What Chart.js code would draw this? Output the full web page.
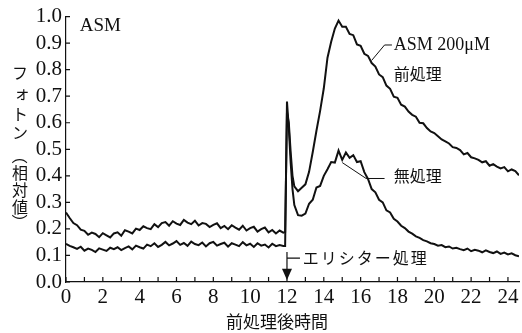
<!DOCTYPE html>
<html>
<head>
<meta charset="utf-8">
<script src="https://cdn.jsdelivr.net/npm/chart.js@4.4.1/dist/chart.umd.min.js"></script>
<style>
  body { margin: 0; background: #fff; }
  #wrap { width: 522px; height: 333px; position: relative; }
</style>
</head>
<body>
<div id="wrap"><canvas id="photon"></canvas></div>
<script>
// hours after pretreatment (finer steps around the elicitor spike)
const hours = [
  0,0.2,0.4,0.6,0.8,1,1.2,1.4,1.6,1.8,2,2.2,2.4,2.6,2.8,3,3.2,3.4,3.6,3.8,
  4,4.2,4.4,4.6,4.8,5,5.2,5.4,5.6,5.8,6,6.2,6.4,6.6,6.8,7,7.2,7.4,7.6,7.8,
  8,8.2,8.4,8.6,8.8,9,9.2,9.4,9.6,9.8,10,10.2,10.4,10.6,10.8,11,11.2,11.4,11.6,11.8,
  11.9,12,12.1,12.2,12.3,
  12.4,12.6,12.8,13,13.2,13.4,13.6,13.8,14,14.2,14.4,14.6,14.8,15,15.2,15.4,15.6,15.8,16,
  16.2,16.4,16.6,16.8,17,17.2,17.4,17.6,17.8,18,18.2,18.4,18.6,18.8,19,19.2,19.4,19.6,19.8,20,
  20.2,20.4,20.6,20.8,21,21.2,21.4,21.6,21.8,22,22.2,22.4,22.6,22.8,23,23.2,23.4,23.6,23.8,24,
  24.2,24.4,24.6
];

// ASM 200uM pretreatment
const asmPretreated = [
  0.262,0.241,0.222,0.214,0.197,0.193,0.178,0.186,0.181,0.169,0.184,0.176,0.168,0.183,0.187,0.174,0.195,0.19,0.183,0.201,
  0.196,0.21,0.203,0.199,0.218,0.207,0.222,0.226,0.212,0.229,0.22,0.215,0.234,0.224,0.218,0.231,0.213,0.222,0.219,0.207,
  0.215,0.221,0.203,0.211,0.199,0.214,0.205,0.197,0.212,0.194,0.203,0.208,0.19,0.199,0.205,0.187,0.196,0.183,0.194,0.186,
  0.188,0.64,0.6,0.49,0.4,
  0.36,0.342,0.355,0.368,0.415,0.49,0.57,0.645,0.73,0.845,0.905,0.955,0.985,0.962,0.962,0.935,0.93,0.895,0.89,
  0.86,0.852,0.825,0.812,0.782,0.772,0.74,0.728,0.698,0.694,
  0.668,0.661,0.642,0.63,0.623,0.6,0.598,0.58,0.567,0.561,0.549,0.537,0.53,0.522,0.508,0.505,0.497,0.481,0.486,0.47,
  0.466,0.46,0.451,0.455,0.438,0.444,0.435,0.428,0.433,0.417,0.424,0.418,0.402
];

// untreated
const untreated = [
  0.144,0.136,0.131,0.125,0.133,0.118,0.126,0.121,0.113,0.127,0.122,0.117,0.129,0.124,0.131,0.12,0.128,0.134,0.123,0.137,
  0.131,0.126,0.141,0.135,0.146,0.132,0.14,0.151,0.138,0.145,0.154,0.14,0.147,0.136,0.152,0.143,0.139,0.149,0.134,0.146,
  0.151,0.137,0.143,0.148,0.133,0.146,0.141,0.135,0.15,0.138,0.144,0.132,0.146,0.137,0.141,0.13,0.144,0.135,0.139,0.136,
  0.136,0.68,0.58,0.45,0.35,
  0.29,0.252,0.25,0.258,0.295,0.31,0.356,0.362,0.4,0.425,0.452,0.45,0.495,0.46,0.488,0.468,0.478,0.452,0.455,
  0.414,0.388,0.35,0.338,0.31,0.3,0.27,0.262,0.238,0.228,
  0.212,0.203,0.19,0.182,0.172,0.166,0.158,0.153,0.146,0.143,0.137,0.139,0.131,0.134,0.126,0.129,0.124,0.12,0.126,0.116,
  0.121,0.118,0.112,0.119,0.113,0.109,0.115,0.106,0.111,0.104,0.108,0.101,0.097
];

const xTickLabels = [0,2,4,6,8,10,12,14,16,18,20,22,24];
const xMinorTicks = [0,1,2,3,4,5,6,7,8,9,10,11,12,13,14,15,16,17,18,19,20,21,22,23,24];
const yTickLabels = [0,0.1,0.2,0.3,0.4,0.5,0.6,0.7,0.8,0.9,1.0];

const serif = "'Liberation Serif', 'DejaVu Serif', serif";
const jp = "'Noto Sans CJK JP', 'Noto Sans', sans-serif";
const ink = '#111';

function pairs(xs, ys) {
  return xs.map((t, i) => ({ x: t, y: ys[i] }));
}

const overlay = {
  id: 'overlay',
  afterDraw(chart) {
    const ctx = chart.ctx;
    const xs = chart.scales.x, ys = chart.scales.y;
    const area = chart.chartArea;
    const px = v => xs.getPixelForValue(v);
    const py = v => ys.getPixelForValue(v);

    ctx.save();
    ctx.strokeStyle = ink;
    ctx.fillStyle = ink;
    ctx.lineWidth = 1.2;

    // inner tick marks
    ctx.beginPath();
    xMinorTicks.forEach(t => {
        ctx.moveTo(px(t), area.bottom);
        ctx.lineTo(px(t), area.bottom - 5);
    });
    yTickLabels.forEach(v => {
        ctx.moveTo(area.left, py(v));
        ctx.lineTo(area.left + 4, py(v));
    });
    ctx.stroke();

    // elicitor arrow
    const ax = px(12);
    ctx.beginPath();
    ctx.moveTo(ax, py(0.113));
    ctx.lineTo(ax, py(0.03));
    ctx.moveTo(ax, py(0.09));
    ctx.lineTo(ax + 13, py(0.09));
    ctx.stroke();
    ctx.beginPath();
    ctx.moveTo(ax - 5, py(0.05));
    ctx.lineTo(ax + 5, py(0.05));
    ctx.lineTo(ax, area.bottom - 2);
    ctx.closePath();
    ctx.fill();

    // leader lines
    ctx.lineWidth = 1;
    ctx.beginPath();
    ctx.moveTo(px(17.7), py(0.893));
    ctx.lineTo(px(17.3), py(0.893));
    ctx.lineTo(px(16.6), py(0.835));
    ctx.moveTo(px(15.0), py(0.45));
    ctx.lineTo(px(16.3), py(0.39));
    ctx.lineTo(px(17.3), py(0.39));
    ctx.stroke();

    // texts
    ctx.textBaseline = 'middle';
    ctx.textAlign = 'left';
    ctx.font = '19px ' + serif;
    ctx.fillText('ASM', px(0.75), py(0.965));
    ctx.font = '18px ' + serif;
    ctx.fillText('ASM 200\u03bcM', px(17.8), py(0.893));
    ctx.font = '16px ' + jp;
    ctx.fillText('前処理', px(17.8), py(0.785));
    ctx.fillText('無処理', px(17.8), py(0.40));
    ctx.letterSpacing = '2px';
    ctx.fillText('エリシター処理', px(12.85), py(0.09));
    ctx.letterSpacing = '0px';

    // x title
    ctx.textAlign = 'center';
    ctx.font = '17px ' + jp;
    ctx.fillText('前処理後時間', 277, 322);

    // vertical y title (parentheses turned for vertical writing)
    ctx.font = '16px ' + jp;
    const chars = ['フ', 'ォ', 'ト', 'ン', '（', '相', '対', '値', '）'];
    const tops = [73, 93, 114, 133, 156, 173, 190, 207, 222];
    chars.forEach((c, i) => {
        if (c === '（' || c === '）') {
            ctx.save();
            ctx.translate(20, tops[i]);
            ctx.rotate(Math.PI / 2);
            ctx.fillText(c, 0, 0);
            ctx.restore();
        } else {
            const dx = c === 'ォ' ? 2 : 0;
            ctx.fillText(c, 20 + dx, tops[i]);
        }
    });
    ctx.restore();
  }
};

new Chart(document.getElementById('photon').getContext('2d'), {
  type: 'line',
  data: {
    datasets: [{
        label: 'ASM 200μM 前処理',
        data: pairs(hours, asmPretreated),
        borderColor: ink,
        borderWidth: 2,
        pointRadius: 0,
        tension: 0,
        fill: false
    }, {
        label: '無処理',
        data: pairs(hours, untreated),
        borderColor: ink,
        borderWidth: 2,
        pointRadius: 0,
        tension: 0,
        fill: false
    }]
  },
  options: {
    responsive: true,
    maintainAspectRatio: false,
    animation: false,
    layout: { padding: { top: 15, right: 3, left: 0, bottom: 0 } },
    plugins: {
        legend: { display: false },
        tooltip: { enabled: false }
    },
    scales: {
        x: {
            type: 'linear',
            min: 0,
            max: 24.6,
            afterBuildTicks: s => { s.ticks = xTickLabels.map(v => ({ value: v })); },
            afterFit: s => { s.height = 51; },
            grid: { display: false, drawTicks: false },
            border: { display: true, color: ink, width: 1.2 },
            ticks: {
                color: ink,
                padding: 3,
                maxRotation: 0,
                autoSkip: false,
                font: { family: serif, size: 21 }
            }
        },
        y: {
            min: 0,
            max: 1,
            afterBuildTicks: s => { s.ticks = yTickLabels.map(v => ({ value: v })); },
            afterFit: s => { s.width = 66; },
            grid: { display: false, drawTicks: false },
            border: { display: true, color: ink, width: 1.2 },
            ticks: {
                color: ink,
                padding: 4,
                autoSkip: false,
                font: { family: serif, size: 21 },
                callback: v => v.toFixed(1)
            }
        }
    }
  },
  plugins: [overlay]
});
</script>
</body>
</html>
